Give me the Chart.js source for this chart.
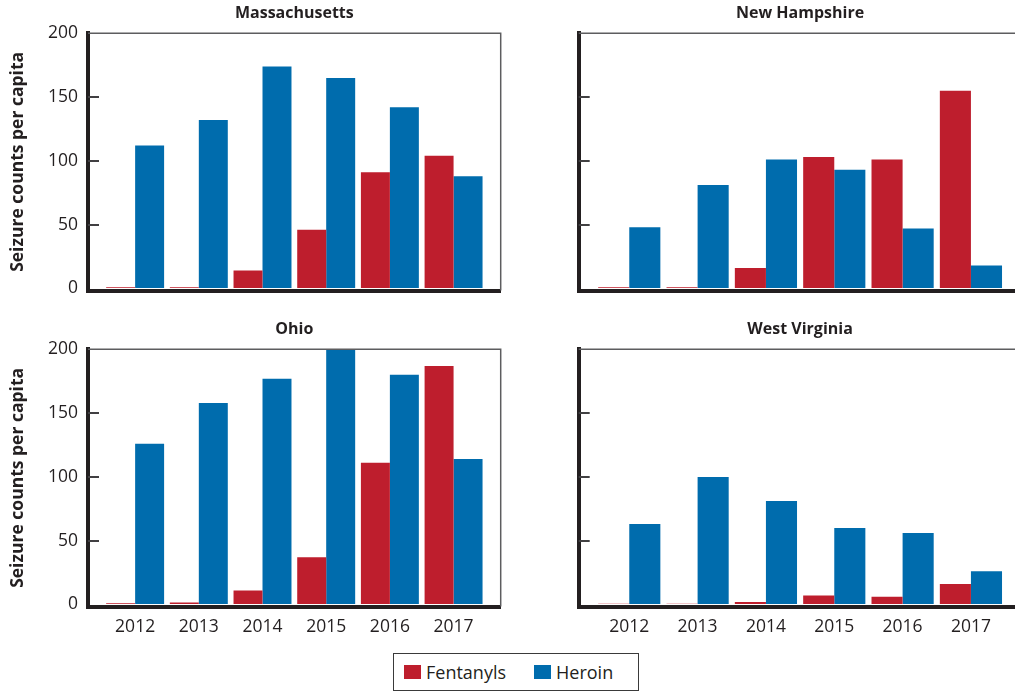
<!DOCTYPE html>
<html>
<head>
<meta charset="utf-8">
<script src="https://cdn.jsdelivr.net/npm/chart.js@4.4.1/dist/chart.umd.min.js"></script>
<style>
  html, body { margin: 0; padding: 0; background: #fff; }
  body { width: 1015px; height: 692px; overflow: hidden; position: relative; font-family: "Open Sans", sans-serif; color: #231f20; }
  canvas { position: absolute; }
  #legend { position: absolute; left: 393px; top: 653px; width: 246px; height: 38px; box-sizing: border-box;
            border: 1px solid #3a3a3a; display: flex; align-items: center; padding-left: 10px; font-size: 18px; }
  #legend .sw { display: inline-block; width: 17px; height: 14px; margin-right: 5px; }
  #legend .item { display: flex; align-items: center; margin-right: 28px; }
</style>
</head>
<body>
<canvas id="ma" width="505" height="312" style="left:0;top:0"></canvas>
<canvas id="nh" width="490" height="312" style="left:540px;top:0"></canvas>
<canvas id="oh" width="505" height="330" style="left:0;top:316px"></canvas>
<canvas id="wv" width="490" height="330" style="left:540px;top:316px"></canvas>
<div id="legend"></div>
<script>
// data
const years = [2012, 2013, 2014, 2015, 2016, 2017]
const yTicks = [0, 50, 100, 150, 200]
const seriesNames = ['Fentanyls', 'Heroin']

const maFentanyls = [1, 1, 14, 46, 91, 104]
const maHeroin = [112, 132, 174, 165, 142, 88]
const nhFentanyls = [1, 1, 16, 103, 101, 155]
const nhHeroin = [48, 81, 101, 93, 47, 18]
const ohFentanyls = [1, 1.5, 11, 37, 111, 187]
const ohHeroin = [126, 158, 177, 200, 180, 114]
const wvFentanyls = [0.5, 0.5, 2, 7, 6, 16]
const wvHeroin = [63, 100, 81, 60, 56, 26]

const colors = ['#be1e2d', '#006cad']
const ink = '#231f20'

// thin top/right frame + tick marks pointing into the plot
const frame = {
    id: 'frame',
    afterDraw(chart) {
        const { ctx, chartArea: a } = chart
        const y = chart.scales.y
        ctx.save()
        ctx.strokeStyle = '#5d5d5f'
        ctx.lineWidth = 1.5
        ctx.beginPath()
        ctx.moveTo(a.left, a.top)
        ctx.lineTo(a.right, a.top)
        ctx.lineTo(a.right, a.bottom)
        ctx.stroke()
        ctx.strokeStyle = '#414042'
        ctx.lineWidth = 2
        ctx.beginPath()
        for (const v of yTicks.slice(1, -1)) {
            const py = Math.round(y.getPixelForValue(v))
            ctx.moveTo(a.left, py)
            ctx.lineTo(a.left + 11, py)
        }
        ctx.stroke()
        ctx.restore()
    }
}

function makePanel(id, title, fent, heroin, left, bottom) {
    const cfg = {
        type: 'bar',
        data: {
            datasets: [fent, heroin].map((vals, i) => ({
                label: seriesNames[i],
                data: years.map((x, j) => ({ x, y: vals[j] })),
                backgroundColor: colors[i],
                categoryPercentage: 0.91,
                barPercentage: 1
            }))
        },
        options: {
            responsive: false,
            animation: false,
            layout: { padding: { right: left ? 4.3 : 8.5 } },
            plugins: {
                legend: { display: false },
                tooltip: { enabled: false },
                title: {
                    display: true, text: title, color: ink, fullSize: false,
                    font: { family: 'Open Sans', size: 16, weight: 'bold' },
                    padding: { top: 4, bottom: 10.1 }
                }
            },
            scales: {
                x: {
                    type: 'linear', min: 2011.26, max: 2017.74, offset: false,
                    afterBuildTicks: s => { s.ticks = years.map(value => ({ value })) },
                    afterFit: s => { s.height = bottom ? 39.5 : 21.5 },
                    grid: { drawOnChartArea: false, drawTicks: false },
                    border: { color: ink, width: 4 },
                    ticks: {
                        display: bottom, padding: 10, color: ink,
                        font: { family: 'Open Sans', size: 17.5 },
                        callback: v => String(v)
                    }
                },
                y: {
                    min: -1.6, max: 200,
                    afterBuildTicks: s => { s.ticks = yTicks.map(value => ({ value })) },
                    afterFit: s => { s.width = left ? 88 : 38.7 },
                    grid: { drawOnChartArea: false, drawTicks: false },
                    border: { color: ink, width: 4 },
                    ticks: {
                        display: left, padding: 10, color: ink,
                        font: { family: 'Open Sans', size: 17.5 }
                    },
                    title: {
                        display: left, text: 'Seizure counts per capita', color: ink,
                        font: { family: 'Open Sans', size: 17.5, weight: 'bold' },
                        padding: { top: 7.5, bottom: 0 }
                    }
                }
            }
        },
        plugins: [frame]
    }
    return new Chart(document.getElementById(id), cfg)
}

makePanel('ma', 'Massachusetts', maFentanyls, maHeroin, true, false)
makePanel('nh', 'New Hampshire', nhFentanyls, nhHeroin, false, false)
makePanel('oh', 'Ohio', ohFentanyls, ohHeroin, true, true)
makePanel('wv', 'West Virginia', wvFentanyls, wvHeroin, false, true)

// html legend
const legend = document.getElementById('legend')
seriesNames.forEach((name, i) => {
    const item = document.createElement('span')
    item.className = 'item'
    const sw = document.createElement('span')
    sw.className = 'sw'
    sw.style.background = colors[i]
    item.appendChild(sw)
    item.appendChild(document.createTextNode(name))
    legend.appendChild(item)
})
</script>
</body>
</html>
